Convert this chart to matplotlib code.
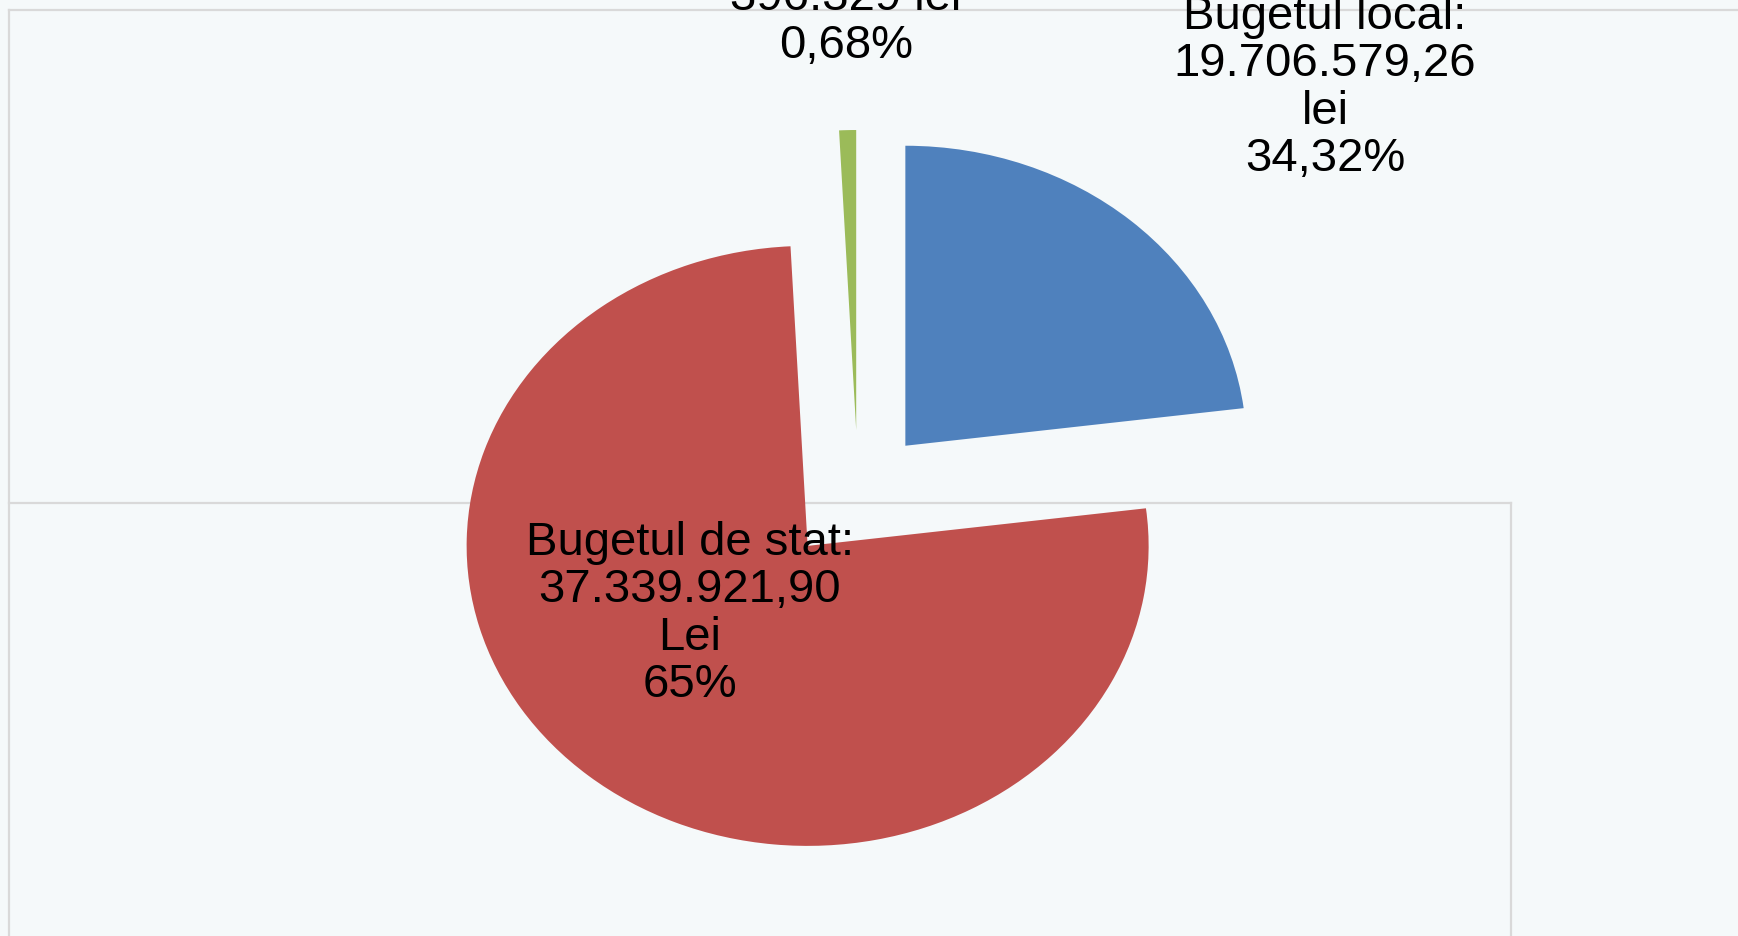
# structura bugetului - pie explodat, turtit pe verticala
import matplotlib.pyplot as plt
from matplotlib.lines import Line2D

plt.rcParams['font.family'] = ['Liberation Sans', 'DejaVu Sans']

# date (ponderile desenate in grafic, in ordinea de la 12 in sensul acelor)
surse = ["Bugetul local", "Bugetul de stat", "Alte surse"]
ponderi = [23.0, 76.2, 0.8]
culori = ["#4F81BD", "#C0504D", "#9BBB59"]
etichete = [
    "Bugetul local:\n19.706.579,26\nlei\n34,32%",
    "Bugetul de stat:\n37.339.921,90\nLei\n65%",
    "396.329 lei\n0,68%",
]
departare = [0.21, 0.23, 0.21]

W, H = 1738, 936
fundal = "#F5F9FA"

fig = plt.figure(figsize=(W / 100, H / 100), dpi=100)
fig.patch.set_facecolor(fundal)

# rama (chenarul zonei graficului), sub felii
gri = "#D9D9D9"
def px(x, y):
    return x / W, 1 - y / H
for (x0, y0), (x1, y1) in [((9, 10), (W, 10)), ((9, 10), (9, H)),
                           ((9, 503), (1511, 503)), ((1511, 503), (1511, H))]:
    a, b = px(x0, y0)
    c, d = px(x1, y1)
    fig.add_artist(Line2D([a, c], [b, d], color=gri, lw=1.6,
                          transform=fig.transFigure, zorder=-5))

ax = fig.add_axes([0, 0, 1, 1])
ax.pie(ponderi, colors=culori, startangle=90, counterclock=False,
       explode=departare, radius=1, center=(0, 0), frame=False,
       wedgeprops=dict(linewidth=0))
ax.set_aspect("auto")
# centrul la (858, 493) px, raza 341 px pe orizontala si 300 px pe verticala
cx, cy, rx, ry = 858, 493, 341, 300
ax.set_xlim(-cx / rx, (W - cx) / rx)
ax.set_ylim(-(H - cy) / ry, cy / ry)
ax.axis("off")

# etichete
pozitii = [(1325, 88), (690, 614), (846, 22)]
for txt, (x, y) in zip(etichete, pozitii):
    fx, fy = px(x, y)
    fig.text(fx, fy, txt, ha="center", va="center", multialignment="center",
             fontsize=34, linespacing=1.10, color="black", zorder=5)

plt.savefig("out.png", dpi=100, facecolor=fundal)
